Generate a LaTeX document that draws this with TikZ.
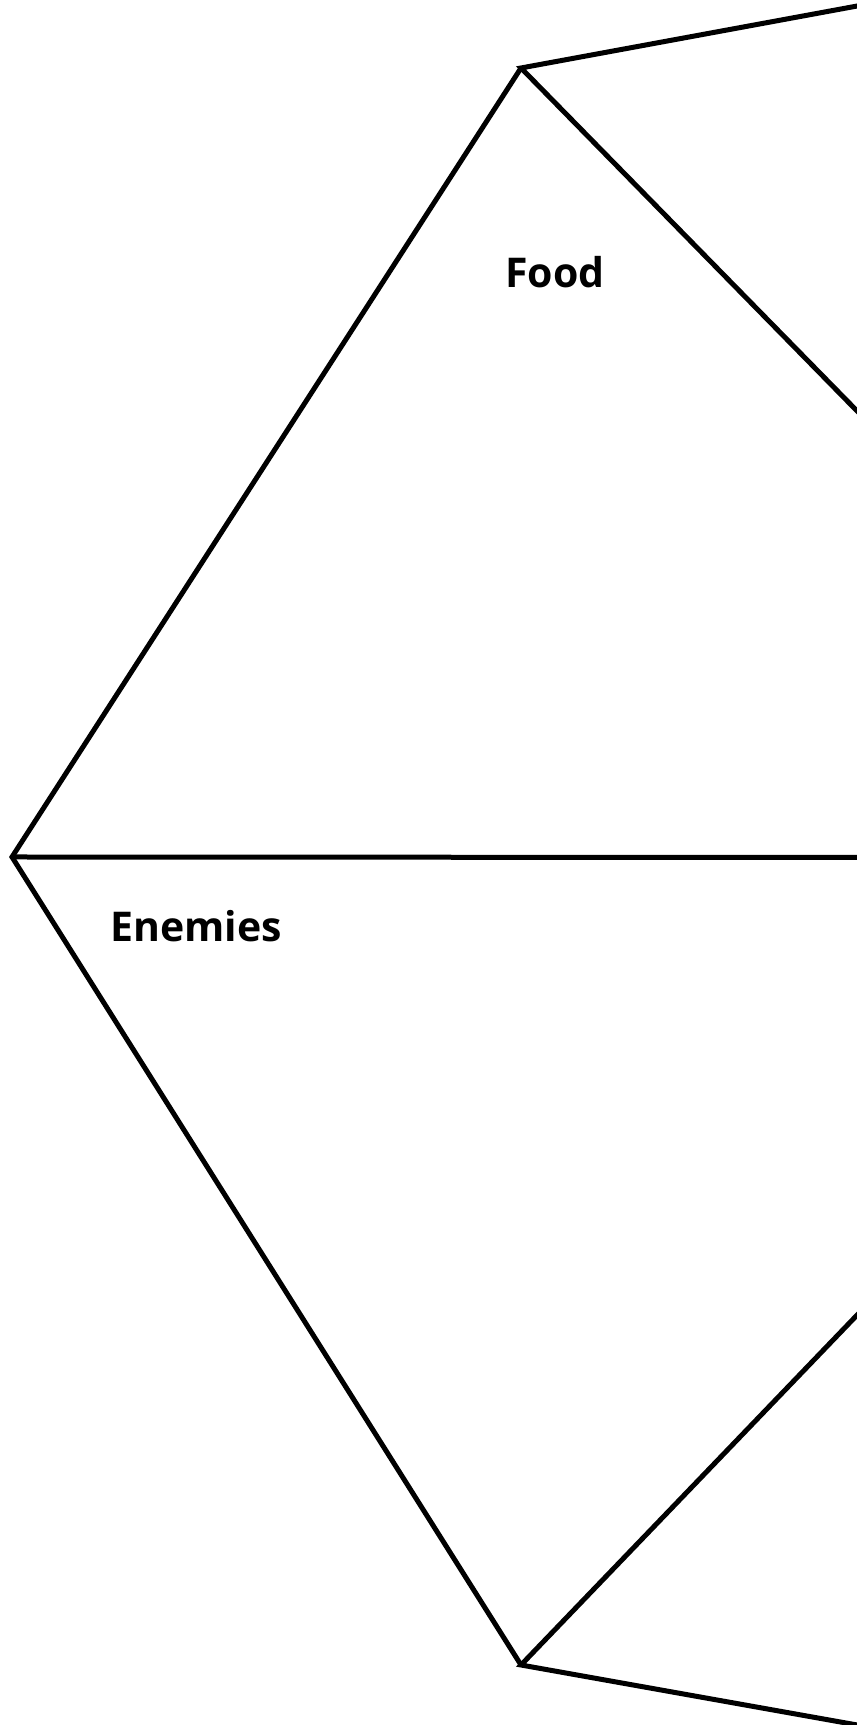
\documentclass[tikz,border=0pt]{standalone}
\usepackage{fontspec}
\setmainfont{Open Sans}
\begin{document}
\begin{tikzpicture}[x=1pt,y=1pt,
  edge/.style={line width=5pt,line join=miter,draw=black},
  lbl/.style={font=\fontsize{41}{43}\selectfont\bfseries,inner sep=0pt,anchor=base west}]
\useasboundingbox (0,0) rectangle (857,1725);
\clip (0,0) rectangle (857,1725);
\coordinate (T) at (521,1657);
\coordinate (TR) at (860,1719.5);
\coordinate (D1) at (860,1311);
\coordinate (L) at (12,868);
\coordinate (H) at (860,867.5);
\coordinate (B) at (521,60);
\coordinate (BR) at (860,-0.5);
\coordinate (D2) at (860,413);
\draw[edge] (TR) -- (T) -- (D1);
\draw[edge] (T) -- (L) -- (B);
\draw[edge] (L) -- (H);
\draw[edge] (D2) -- (B) -- (BR);
\node[lbl] (food) at (505,1437) {Food};
\node[lbl] (enemies) at (110,783) {Enemies};
\end{tikzpicture}
\end{document}
